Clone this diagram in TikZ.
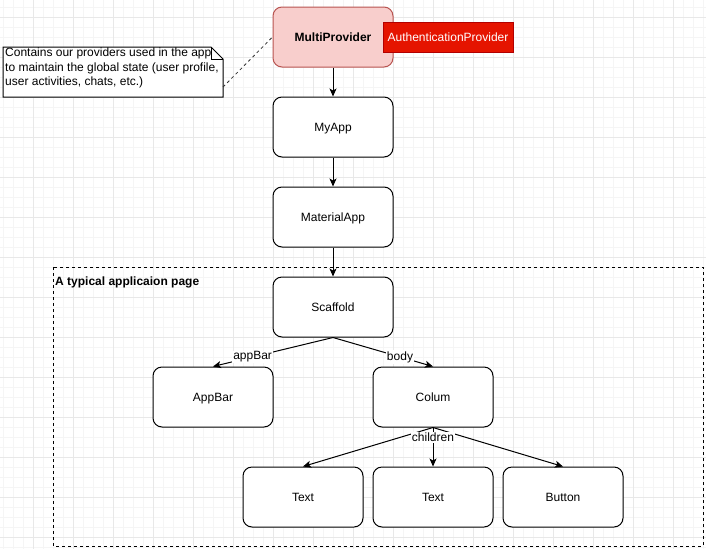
\documentclass[tikz,border=0pt]{standalone}
\usepackage{fontspec}
\setmainfont{Liberation Sans}
\usetikzlibrary{arrows.meta}
\definecolor{mpfill}{HTML}{F8CECC}
\definecolor{mpdraw}{HTML}{B85450}
\definecolor{apfill}{HTML}{E51400}
\definecolor{apdraw}{HTML}{B20000}
\definecolor{gridminor}{HTML}{F5F5F5}
\definecolor{gridmajor}{HTML}{E8E8E8}
\begin{document}
\begin{tikzpicture}[x=1pt,y=-1pt,font=\fontsize{12}{14}\selectfont,
  box/.style={draw=black,line width=1pt,rounded corners=9pt,minimum width=120pt,minimum height=60pt,inner sep=0pt,fill=white,text height=8.6pt,text depth=0pt},
  arr/.style={line width=1pt,-{Stealth[length=8pt,width=7pt,inset=2pt]}},
  lbl/.style={fill=white,inner sep=1pt}]
\useasboundingbox (0,0) rectangle (706,549);
\fill[white] (0,0) rectangle (706,549);
% grid
\foreach \x in {3,13,...,703} \draw[gridminor,line width=1pt] (\x,0) -- (\x,549);
\foreach \y in {7,17,...,547} \draw[gridminor,line width=1pt] (0,\y) -- (706,\y);
\foreach \x in {33,73,...,673} \draw[gridmajor,line width=1pt] (\x,0) -- (\x,549);
\foreach \y in {17,57,...,537} \draw[gridmajor,line width=1pt] (0,\y) -- (706,\y);
% container
\draw[line width=1pt,dash pattern=on 3pt off 3pt] (53,267) rectangle (703,546);
\node[anchor=west,font=\fontsize{12}{14}\selectfont\bfseries,inner sep=0pt,text height=8.6pt,text depth=0pt] (pagelbl) at (55,281) {A typical applicaion page};
% nodes
\node[box,fill=mpfill,draw=mpdraw,font=\fontsize{12}{14}\selectfont\bfseries] (mp) at (333,37) {MultiProvider};
\node[draw=apdraw,fill=apfill,text=white,line width=1pt,minimum width=130pt,minimum height=30pt,inner sep=0pt,text height=8.6pt,text depth=0pt] (ap) at (448,37) {AuthenticationProvider};
\node[box] (myapp) at (333,127) {MyApp};
\node[box] (mat) at (333,217) {MaterialApp};
\node[box] (scaf) at (333,307) {Scaffold};
\node[box] (appbar) at (213,397) {AppBar};
\node[box] (colum) at (433,397) {Colum};
\node[box] (t1) at (303,497) {Text};
\node[box] (t2) at (433,497) {Text};
\node[box] (btn) at (563,497) {Button};
% note
\draw[line width=1pt,fill=white] (3,47) -- (211,47) -- (223,59) -- (223,97) -- (3,97) -- cycle;
\draw[line width=1pt] (211,47) -- (211,59) -- (223,59);
\node[anchor=north west,align=left,inner sep=0pt,font=\fontsize{12}{14.5}\selectfont] (note) at (5,48) {Contains our providers used in the app\\to maintain the global state (user profile,\\user activities, chats, etc.)};
\coordinate (notec) at (223,87);
\draw[line width=0.8pt,dash pattern=on 3pt off 3pt,black!80] (notec) -- (mp.west);
% edges
\draw[arr] (mp) -- (myapp);
\draw[arr] (myapp) -- (mat);
\draw[arr] (mat) -- (scaf);
\draw[arr] (scaf.south) -- node[lbl,pos=0.67] {appBar} (appbar.north);
\draw[arr] (scaf.south) -- node[lbl,pos=0.67] {body} (colum.north);
\draw[arr] (colum.south) -- (t1.north);
\draw[arr] (colum.south) -- (btn.north);
\draw[arr] (colum.south) -- node[lbl,pos=0.25] {children} (t2.north);
\end{tikzpicture}
\end{document}
